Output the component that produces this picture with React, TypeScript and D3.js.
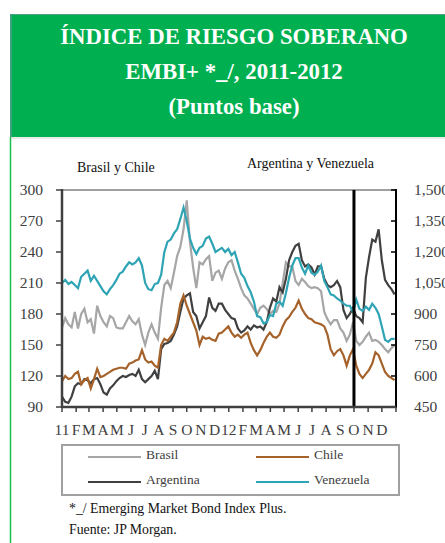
import React from "react";
import * as d3 from "d3";

const startDate = new Date(2011, 0, 1);

const brasil = [
  167,176,170,167,182,166,180,185,172,175,
  161,188,178,172,168,178,176,167,166,166,
  172,178,173,170,175,160,150,162,170,162,
  156,186,208,212,205,220,236,245,262,290,
  250,225,205,230,228,233,236,212,220,222,
  214,224,230,232,222,214,205,198,195,190,
  185,180,186,188,185,180,183,182,190,210,
  230,226,226,212,208,214,211,207,205,206,
  205,202,182,175,170,174,174,166,162,154,
  160,172,154,150,153,158,162,154,155,153,
  150,146,143,147,150,
];

const chile = [
  115,120,117,118,122,124,112,116,118,108,
  117,127,119,120,122,124,126,127,128,128,
  127,132,133,135,136,145,136,133,134,130,
  128,150,156,154,158,162,172,190,198,188,
  180,172,164,150,158,156,157,155,154,161,
  162,165,168,162,158,160,157,160,162,152,
  145,140,145,152,158,162,158,157,160,168,
  174,177,182,186,193,185,180,176,175,172,
  171,170,168,160,146,140,144,146,140,130,
  140,146,130,122,118,122,126,132,143,140,
  132,124,120,118,116,
];

const argentina = [
  500,475,470,500,550,565,560,585,580,565,
  585,590,560,520,510,540,555,575,590,600,
  595,605,610,600,630,585,570,585,600,625,
  585,730,755,760,770,800,840,910,975,990,
  1000,910,890,830,860,890,980,930,915,950,
  950,920,900,880,875,830,810,820,840,825,
  845,835,840,825,860,930,975,960,1030,1005,
  1070,1160,1200,1230,1240,1160,1130,1140,1125,1090,
  1130,1130,1070,1040,1030,1040,1060,1030,920,880,
  900,930,890,880,860,1075,1175,1260,1250,1310,
  1160,1065,1040,1020,995,
];

const venezuela = [
  1050,1065,1045,1055,1040,1025,1080,1095,1110,1060,
  1085,1060,1035,1010,995,1020,1040,1065,1095,1105,
  1130,1150,1140,1150,1170,1135,1050,1020,1015,1045,
  1050,1090,1200,1250,1260,1290,1310,1360,1415,1350,
  1265,1220,1190,1220,1230,1265,1275,1240,1200,1210,
  1220,1200,1215,1185,1200,1150,1095,1075,1035,1005,
  960,890,885,855,860,895,890,950,960,940,
  1000,1075,1135,1170,1170,1125,1095,1135,1100,1090,
  1105,1135,1060,1030,995,990,975,965,950,940,
  940,910,970,925,915,935,920,950,930,900,
  840,775,765,780,780,
];

const leftTicks = [90, 120, 150, 180, 210, 240, 270, 300];
const rightTicks = [450, 600, 750, 900, 1050, 1200, 1350, 1500];
const monthLabels = ["11","F","M","A","M","J","J","A","S","O","N","D","12","F","M","A","M","J","J","A","S","O","N","D"];
const titleLines = ["ÍNDICE DE RIESGO SOBERANO", "EMBI+ *_/, 2011-2012", "(Puntos base)"];
const markerDate = new Date(2012, 9, 1);

const colors = { brasil: "#a6a6a6", chile: "#a5622a", argentina: "#404040", venezuela: "#2fa4b4" };

export default function App() {
  const W = 445, H = 543;
  const L = 62, R = 396, T = 190, B = 407;
  const font = "Liberation Serif, Times New Roman, Times, serif";
  const dates = brasil.map((_, i) => d3.timeDay.offset(startDate, i * 7));
  const x = d3.scaleTime().domain([new Date(2011, 0, 1), new Date(2013, 0, 1)]).range([L, R]);
  const yL = d3.scaleLinear().domain([90, 300]).range([B, T]);
  const yR = d3.scaleLinear().domain([450, 1500]).range([B, T]);
  const months = d3.timeMonth.range(new Date(2011, 0, 1), new Date(2013, 0, 2));
  const lineL = d3.line<number>().x((_, i) => x(dates[i])).y((d) => yL(d));
  const lineR = d3.line<number>().x((_, i) => x(dates[i])).y((d) => yR(d));
  const mx = x(markerDate);

  const legend = [
    { name: "Brasil", color: colors.brasil, lx: 88, ly: 457 },
    { name: "Chile", color: colors.chile, lx: 256, ly: 457 },
    { name: "Argentina", color: colors.argentina, lx: 88, ly: 482 },
    { name: "Venezuela", color: colors.venezuela, lx: 256, ly: 482 },
  ];

  return (
    <svg width={W} height={H} style={{ position: "absolute", left: 0, top: 0, background: "#fff", fontFamily: font }}>
      <rect x={0} y={0} width={W} height={H} fill="#fff" />
      {/* header */}
      <rect x={10} y={14} width={W - 10} height={123} fill="#00b050" />
      <line x1={10} x2={W} y1={14.5} y2={14.5} stroke="#4f9f8c" strokeWidth={1} />
      <line x1={11} x2={11} y1={14} y2={137} stroke="#3f9f7f" strokeWidth={2} />
      <line x1={10} x2={W} y1={138} y2={138} stroke="#cfd8d3" strokeWidth={1} />
      <line x1={10.5} x2={10.5} y1={137} y2={H} stroke="#19c050" strokeWidth={1.5} />
      {titleLines.map((t, i) => (
        <text key={i} x={234} y={44 + i * 35} textAnchor="middle" fill="#fff" fontWeight="bold" fontSize={22.8} style={{ fontFamily: font }}>{t}</text>
      ))}

      {/* subtitles */}
      <text x={77} y={172} fontSize={14} fill="#111" style={{ fontFamily: font }}>Brasil y Chile</text>
      <text x={247} y={168} fontSize={14} fill="#111" style={{ fontFamily: font }}>Argentina  y Venezuela</text>

      {/* top border */}
      <line x1={L} x2={R} y1={T} y2={T} stroke="#808080" strokeWidth={1.5} />

      {/* series */}
      <path d={lineL(brasil) || ""} fill="none" stroke={colors.brasil} strokeWidth={2.2} />
      <path d={lineR(argentina) || ""} fill="none" stroke={colors.argentina} strokeWidth={2.2} />
      <path d={lineL(chile) || ""} fill="none" stroke={colors.chile} strokeWidth={2.2} />
      <path d={lineR(venezuela) || ""} fill="none" stroke={colors.venezuela} strokeWidth={2.2} />

      {/* marker line */}
      <line x1={mx} x2={mx} y1={T} y2={B} stroke="#000" strokeWidth={3} />

      {/* left axis */}
      <line x1={L} x2={L} y1={T - 1} y2={B + 1} stroke="#404040" strokeWidth={2.5} />
      {leftTicks.map((t) => (
        <g key={t}>
          <line x1={L - 6} x2={L} y1={yL(t)} y2={yL(t)} stroke="#404040" strokeWidth={1.5} />
          <text x={43} y={yL(t) + 5} textAnchor="end" fontSize={15.5} fill="#404040" style={{ fontFamily: font }}>{t}</text>
        </g>
      ))}

      {/* right axis */}
      <line x1={R} x2={R} y1={T - 1} y2={B + 1} stroke="#000" strokeWidth={2} />
      {rightTicks.map((t) => (
        <g key={t}>
          <line x1={R - 5} x2={R} y1={yR(t)} y2={yR(t)} stroke="#000" strokeWidth={1.5} />
          <text x={414} y={yR(t) + 5} textAnchor="start" fontSize={15.5} fill="#404040" style={{ fontFamily: font }}>{d3.format(",")(t)}</text>
        </g>
      ))}

      {/* bottom axis */}
      <line x1={L} x2={R} y1={B} y2={B} stroke="#404040" strokeWidth={2.5} />
      {months.map((m, i) => (
        <line key={i} x1={x(m)} x2={x(m)} y1={B} y2={B + 5} stroke="#404040" strokeWidth={1.5} />
      ))}
      {months.slice(0, 24).map((m, i) => (
        <text key={i} x={x(m)} y={435} textAnchor="middle" fontSize={15.5} fill="#404040" style={{ fontFamily: font }}>{monthLabels[i]}</text>
      ))}

      {/* legend */}
      <rect x={62} y={445} width={337} height={50} fill="none" stroke="#a0a0a0" strokeWidth={2} />
      {legend.map((l) => (
        <g key={l.name}>
          <line x1={l.lx} x2={l.lx + 53} y1={l.ly} y2={l.ly} stroke={l.color} strokeWidth={2} />
          <text x={l.lx + 58} y={l.ly + 2} fontSize={13.5} fill="#404040" style={{ fontFamily: font }}>{l.name}</text>
        </g>
      ))}

      {/* footnotes */}
      <text x={69} y={513} fontSize={13.8} fill="#111" style={{ fontFamily: font }}>*_/ Emerging Market Bond Index Plus.</text>
      <text x={69} y={534} fontSize={13.8} fill="#111" style={{ fontFamily: font }}>Fuente: JP Morgan.</text>
    </svg>
  );
}
